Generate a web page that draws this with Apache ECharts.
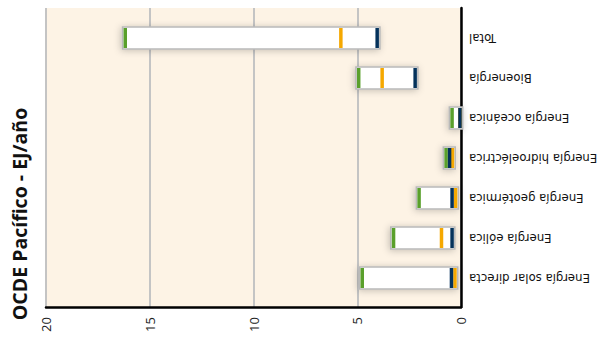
<!DOCTYPE html>
<html>
<head>
<meta charset="utf-8">
<script src="https://cdn.jsdelivr.net/npm/echarts@6/dist/echarts.min.js"></script>
<style>
html,body{margin:0;padding:0;background:#fff;}
#c{width:601px;height:341px;}
</style>
</head>
<body>
<div id="c"></div>
<script>
// categories, bottom to top
const categories = ['Energía solar directa','Energía eólica','Energía geotérmica','Energía hidroeléctrica','Energía oceánica','Bioenergía','Total'];
// three marker values per category (EJ/año)
const greenVals  = [4.76, 3.25, 2.02, 0.72, 0.43, 4.93, 16.18];
const orangeVals = [0.29, 0.94, 0.26, 0.41, 0.05, 3.80, 5.79];
const navyVals   = [0.46, 0.43, 0.43, 0.55, 0.05, 2.21, 4.04];
const axisTitle = 'OCDE Pacífico - EJ/año';
const xMin = 0, xMax = 20, xStep = 5;

const chart = echarts.init(document.getElementById('c'), null, {renderer: 'svg'});

const data = categories.map((c, i) => [i, greenVals[i], orangeVals[i], navyVals[i]]);

function renderItem(params, api) {
  const idx = api.value(0);
  const vals = [api.value(1), api.value(2), api.value(3)];
  const lo = Math.min.apply(null, vals), hi = Math.max.apply(null, vals);
  const pHi = api.coord([hi, idx]);
  const pLo = api.coord([lo, idx]);
  const cy = pHi[1];
  const mw = 3.5, h = 22;
  const left = Math.min(pHi[0], pLo[0]) - mw / 2 - 1;
  const right = Math.max(pHi[0], pLo[0]) + mw / 2 + 1;
  const children = [{
    type: 'rect',
    shape: {x: left, y: cy - h / 2, width: right - left, height: h},
    style: {fill: '#ffffff', stroke: '#b9b9b9', lineWidth: 1.6,
            shadowBlur: 7, shadowColor: 'rgba(0,0,0,0.22)', shadowOffsetX: -1, shadowOffsetY: 1}
  }];
  const colors = ['#5AA02C', '#F5A800', '#04325B'];
  vals.forEach((v, k) => {
    const p = api.coord([v, idx]);
    children.push({
      type: 'rect',
      shape: {x: p[0] - mw / 2, y: cy - h / 2 + 1, width: mw, height: h - 2},
      style: {fill: colors[k]}
    });
  });
  return {type: 'group', children: children};
}

const option = {
  animation: false,
  backgroundColor: '#ffffff',
  grid: [
    {left: 46, right: 140, top: 8, bottom: 34, show: true, backgroundColor: '#FDF3E5', borderWidth: 0},
    {left: 46, right: 140, top: 18, bottom: 43}
  ],
  xAxis: [
    {gridIndex: 0, type: 'value', inverse: true, min: xMin, max: xMax, interval: xStep,
     axisLine: {show: true, lineStyle: {color: '#000', width: 2.5}},
     axisTick: {show: false},
     axisLabel: {rotate: 90, margin: 10, fontSize: 13, color: '#222', fontFamily: 'Open Sans'},
     splitLine: {show: true, lineStyle: {color: '#c4c4c4', width: 2}}},
    {gridIndex: 1, type: 'value', inverse: true, min: xMin, max: xMax, show: false}
  ],
  yAxis: [
    {gridIndex: 0, type: 'value', position: 'right', min: 0, max: 1,
     axisLine: {show: true, lineStyle: {color: '#000', width: 2.5}},
     axisTick: {show: false}, axisLabel: {show: false}, splitLine: {show: false}},
    {gridIndex: 1, type: 'category', position: 'right', data: categories,
     axisLine: {show: false}, axisTick: {show: false}, splitLine: {show: false},
     axisLabel: {rotate: 180, margin: 8, fontSize: 13, color: '#111', fontFamily: 'Liberation Sans Narrow, DejaVu Sans Condensed, sans-serif'}}
  ],
  graphic: [{
    type: 'text', x: 19.5, y: 214, rotation: Math.PI / 2,
    style: {text: axisTitle, font: 'bold 19.5px "Open Sans"', fill: '#111', textAlign: 'center', textVerticalAlign: 'middle'}
  }],
  series: [{
    type: 'custom', xAxisIndex: 1, yAxisIndex: 1,
    renderItem: renderItem,
    encode: {x: [1, 2, 3], y: 0},
    data: data
  }]
};
chart.setOption(option);
</script>
</body>
</html>
